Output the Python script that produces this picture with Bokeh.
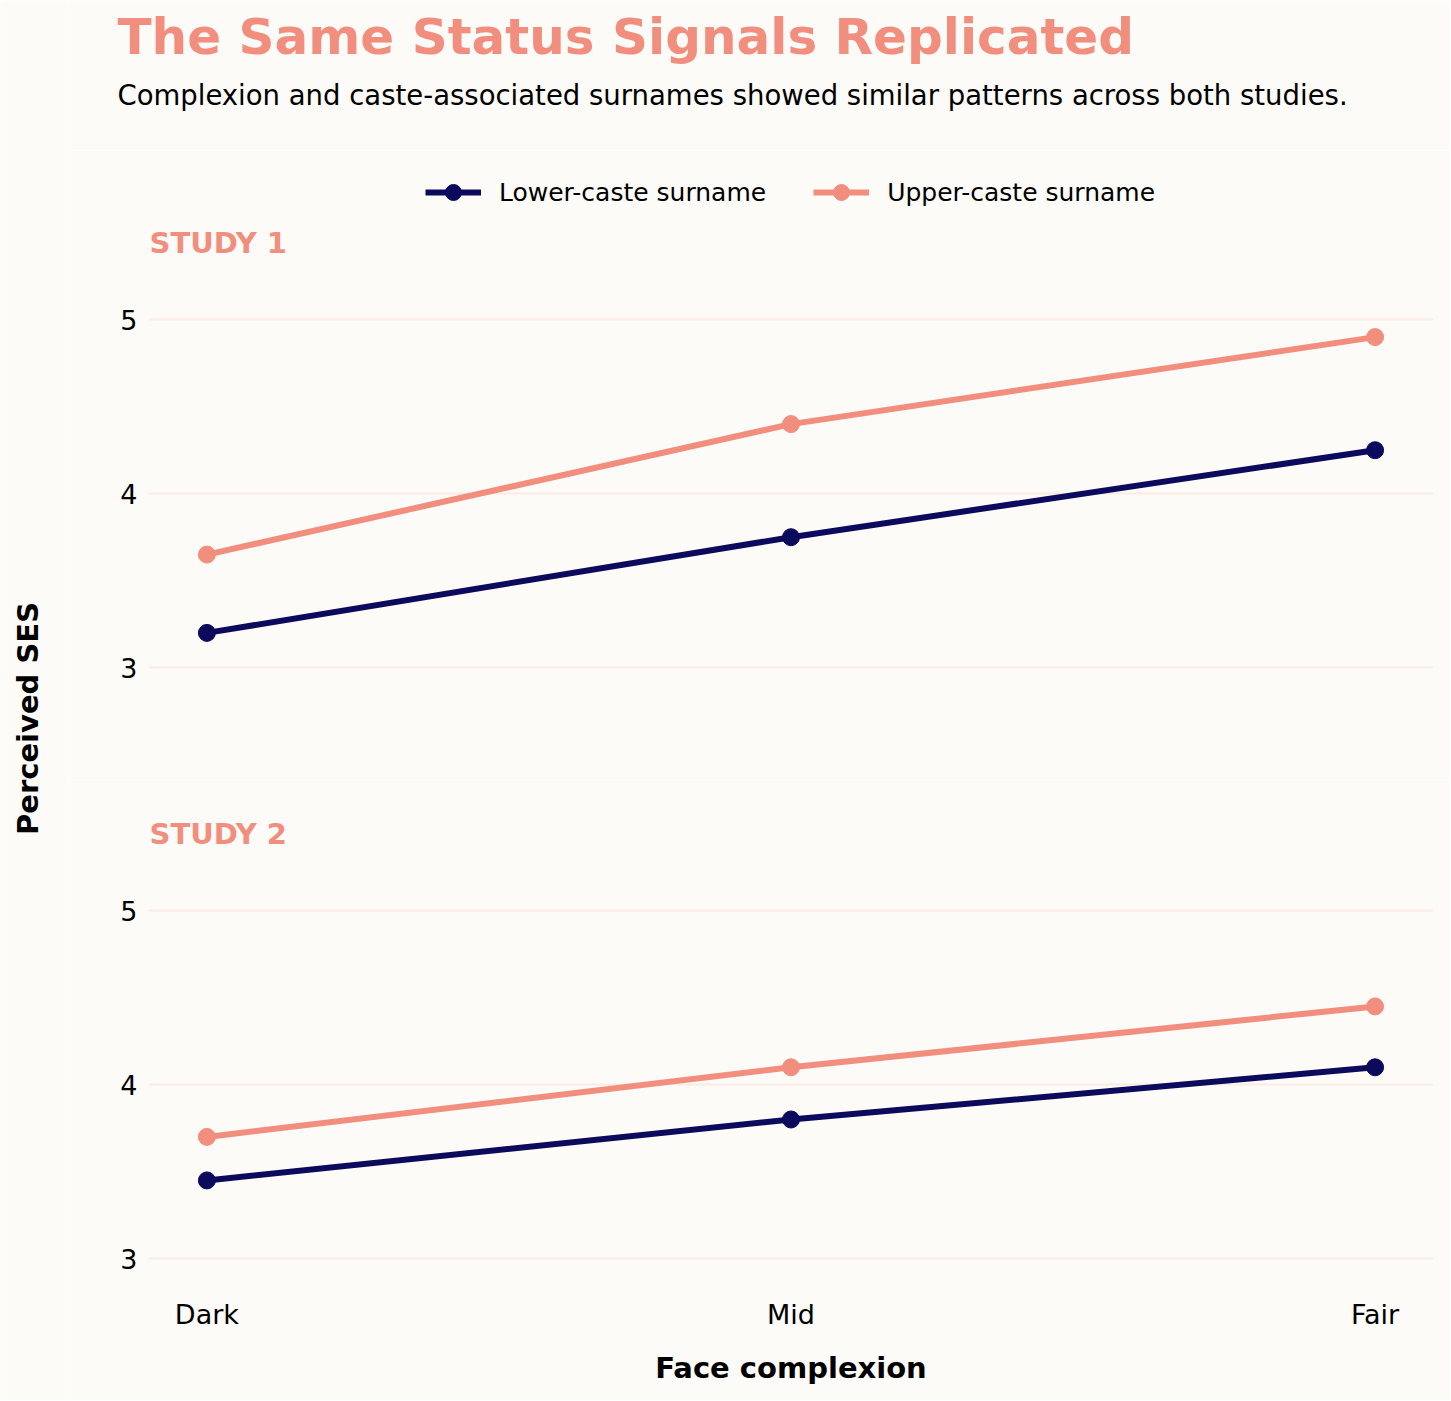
from math import pi

from bokeh.plotting import figure
from bokeh.layouts import row, column
from bokeh.models import Label, Legend, LegendItem, FixedTicker, Range1d
from bokeh.embed import file_html
from bokeh.resources import INLINE

# data
complexion = ["Dark", "Mid", "Fair"]
groups = ["Lower-caste surname", "Upper-caste surname"]
study1_lower = [3.20, 3.75, 4.25]
study1_upper = [3.65, 4.40, 4.90]
study2_lower = [3.45, 3.80, 4.10]
study2_upper = [3.70, 4.10, 4.45]
y_ticks = [3, 4, 5]

BG = "#FCFBF7"
NAVY = "#0C0A5C"
SALMON = "#F28E7E"
GRID = "#FBEBE2"
FONT = "DejaVu Sans"

xs = list(range(len(complexion)))
PX_PER_UNIT = 174  # vertical scale shared by both panels
Y0 = 2.8


def make_panel(height, top, bottom, xaxis):
    frame_h = height - top - bottom
    p = figure(width=1382, height=height, output_backend="svg", toolbar_location=None,
               x_range=Range1d(-0.1, len(complexion) - 1 + 0.1),
               y_range=Range1d(Y0, Y0 + frame_h / PX_PER_UNIT),
               x_axis_location="below" if xaxis else None,
               min_border_left=80, min_border_right=17,
               min_border_top=top, min_border_bottom=bottom,
               background_fill_color=BG, border_fill_color=BG, outline_line_color=None)
    p.xgrid.grid_line_color = None
    p.ygrid.ticker = FixedTicker(ticks=y_ticks)
    p.ygrid.grid_line_color = GRID
    p.ygrid.grid_line_width = 2
    p.yaxis.ticker = FixedTicker(ticks=y_ticks)
    p.yaxis.axis_line_color = None
    p.yaxis.major_tick_line_color = None
    p.yaxis.major_tick_out = 0
    p.yaxis.major_tick_in = 0
    p.yaxis.minor_tick_line_color = None
    p.yaxis.major_label_standoff = 11
    p.yaxis.major_label_text_font = FONT
    p.yaxis.major_label_text_font_size = "27px"
    p.yaxis.major_label_text_color = "black"
    return p


def draw(p, lower, upper):
    out = []
    for vals, col in ((lower, NAVY), (upper, SALMON)):
        ln = p.line(xs, vals, line_color=col, line_width=6)
        sc = p.scatter(xs, vals, size=17, fill_color=col, line_color=col)
        out.append([ln, sc])
    return out


def study_label(p, text):
    p.add_layout(Label(x=1, y=460, x_units="screen", y_units="screen", text=text,
                       text_font=FONT, text_font_size="29px", text_font_style="bold",
                       text_color=SALMON, text_baseline="alphabetic"))


# header with title and subtitle
head = figure(width=1382, height=150, output_backend="svg", toolbar_location=None,
              x_range=Range1d(0, 1382), y_range=Range1d(0, 150),
              x_axis_location=None, y_axis_location=None, min_border=0,
              background_fill_color=BG, border_fill_color=BG, outline_line_color=None)
head.frame_align = False
head.grid.grid_line_color = None
head.add_layout(Label(x=49, y=114, text="The Same Status Signals Replicated", text_font=FONT,
                      text_font_size="50px", text_font_style="bold", text_color=SALMON,
                      text_baseline="alphabetic"))
head.add_layout(Label(x=49, y=56,
                      text="Complexion and caste-associated surnames showed similar patterns across both studies.",
                      text_font=FONT, text_font_size="27.5px", text_color="black",
                      text_baseline="alphabetic"))

# study 1 with legend
p1 = make_panel(630, 20, 78, False)
r1 = draw(p1, study1_lower, study1_upper)
study_label(p1, "STUDY 1")

legend = Legend(items=[LegendItem(label=g, renderers=r) for g, r in zip(groups, r1)],
                location=(277, 490), orientation="horizontal",
                label_text_font=FONT, label_text_font_size="25px", label_text_color="black",
                glyph_width=56, glyph_height=40, label_standoff=18, spacing=47,
                padding=0, margin=0, border_line_color=None, background_fill_alpha=0)
p1.add_layout(legend)

# study 2 with x axis
p2 = make_panel(620, 30, 107, True)
draw(p2, study2_lower, study2_upper)
study_label(p2, "STUDY 2")

p2.xaxis.ticker = FixedTicker(ticks=xs)
p2.xaxis.major_label_overrides = {i: c for i, c in zip(xs, complexion)}
p2.xaxis.axis_line_color = None
p2.xaxis.major_tick_line_color = None
p2.xaxis.major_tick_out = 0
p2.xaxis.major_tick_in = 0
p2.xaxis.minor_tick_line_color = None
p2.xaxis.major_label_standoff = 5
p2.xaxis.major_label_text_font = FONT
p2.xaxis.major_label_text_font_size = "27px"
p2.xaxis.major_label_text_color = "black"
p2.xaxis.axis_label = "Face complexion"
p2.xaxis.axis_label_text_font = FONT
p2.xaxis.axis_label_text_font_size = "29px"
p2.xaxis.axis_label_text_font_style = "bold"
p2.xaxis.axis_label_text_color = "black"
p2.xaxis.axis_label_standoff = 18

# shared y label on its own narrow strip
total_h = 150 + 630 + 620
side = figure(width=68, height=total_h, output_backend="svg", toolbar_location=None,
              x_range=Range1d(0, 68), y_range=Range1d(0, total_h),
              x_axis_location=None, y_axis_location=None, min_border=0,
              background_fill_color=BG, border_fill_color=BG, outline_line_color=None)
side.grid.grid_line_color = None
side.add_layout(Label(x=27, y=total_h - 718, text="Perceived SES", angle=pi / 2,
                      text_font=FONT, text_font_size="29px", text_font_style="bold",
                      text_color="black", text_align="center", text_baseline="alphabetic"))

layout = row(side, column(head, p1, p2))

open("out.html", "w").write(file_html(layout, INLINE))
